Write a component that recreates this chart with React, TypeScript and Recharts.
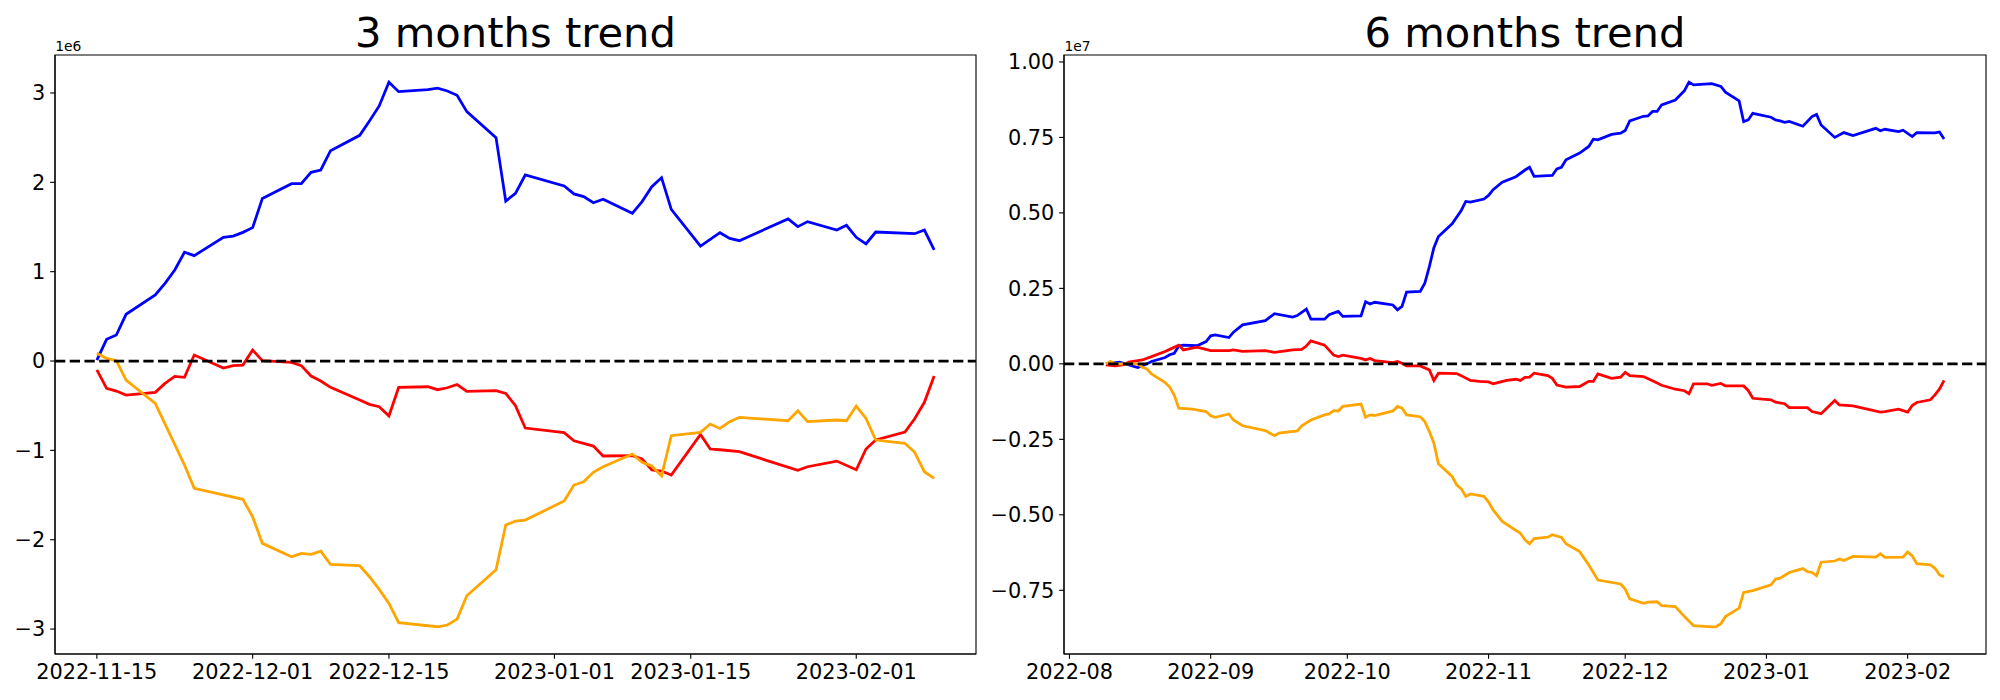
import React from 'react'
import { LineChart, Line, XAxis, YAxis, ReferenceLine, ReferenceArea } from 'recharts'

const FONT = "'DejaVu Sans', sans-serif"
const PX = 100 / 72 // matplotlib points -> px at 100 dpi

const COLORS = { blue: '#0000ff', red: '#ff0000', orange: '#ffa500' }

// ── 3 months trend (x = days since 2022-11-15, y in units of 1e6) ─────────────

const threeStart = '2022-11-15'

const threeBlueDays = [0, 1, 2, 3, 6, 7, 8, 9, 10, 13, 14, 15, 16, 17, 20, 21, 22, 23, 24, 27, 28, 29, 30, 31, 34, 35, 36, 37, 38, 41, 42, 43, 44, 48, 49, 50, 51, 52, 55, 56, 57, 58, 59, 62, 64, 65, 66, 71, 72, 73, 76, 77, 78, 79, 80, 84, 85, 86]
const threeBlueVals = [0.01, 0.243, 0.291, 0.523, 0.739, 0.87, 1.019, 1.217, 1.179, 1.385, 1.399, 1.44, 1.493, 1.82, 1.985, 1.985, 2.112, 2.138, 2.354, 2.526, 2.687, 2.855, 3.12, 3.015, 3.037, 3.053, 3.022, 2.974, 2.791, 2.5, 1.79, 1.877, 2.082, 1.959, 1.87, 1.84, 1.772, 1.81, 1.653, 1.784, 1.951, 2.052, 1.698, 1.287, 1.436, 1.373, 1.347, 1.59, 1.504, 1.56, 1.466, 1.519, 1.385, 1.31, 1.444, 1.425, 1.466, 1.243]

const threeRedDays = [0, 1, 2, 3, 6, 7, 8, 9, 10, 13, 14, 15, 16, 17, 20, 21, 22, 23, 24, 27, 28, 29, 30, 31, 34, 35, 36, 37, 38, 41, 42, 43, 44, 48, 49, 51, 52, 55, 56, 57, 58, 59, 62, 63, 64, 66, 72, 73, 76, 78, 79, 80, 83, 84, 85, 86]
const threeRedVals = [-0.1, -0.306, -0.336, -0.381, -0.351, -0.25, -0.172, -0.183, 0.067, -0.078, -0.052, -0.045, 0.123, 0.004, -0.015, -0.052, -0.168, -0.224, -0.295, -0.437, -0.485, -0.511, -0.616, -0.295, -0.288, -0.321, -0.299, -0.263, -0.34, -0.332, -0.362, -0.5, -0.75, -0.802, -0.892, -0.952, -1.063, -1.06, -1.097, -1.22, -1.231, -1.276, -0.821, -0.985, -0.993, -1.015, -1.224, -1.183, -1.12, -1.217, -0.985, -0.884, -0.795, -0.646, -0.462, -0.168]

const threeOrangeDays = [0, 1, 2, 3, 6, 9, 10, 15, 16, 17, 20, 21, 22, 23, 24, 27, 28, 29, 30, 31, 35, 36, 37, 38, 41, 42, 43, 44, 48, 49, 50, 51, 52, 55, 56, 57, 58, 59, 62, 63, 64, 65, 66, 71, 72, 73, 76, 77, 78, 79, 80, 83, 84, 85, 86]
const threeOrangeVals = [0.086, 0.03, 0.004, -0.213, -0.474, -1.164, -1.425, -1.548, -1.743, -2.041, -2.19, -2.153, -2.164, -2.127, -2.276, -2.291, -2.414, -2.556, -2.713, -2.929, -2.974, -2.955, -2.888, -2.627, -2.336, -1.836, -1.791, -1.78, -1.567, -1.388, -1.351, -1.246, -1.183, -1.041, -1.134, -1.175, -1.287, -0.836, -0.798, -0.705, -0.754, -0.679, -0.63, -0.668, -0.556, -0.679, -0.66, -0.668, -0.504, -0.642, -0.884, -0.921, -1.022, -1.239, -1.313]

const threeTickLabels = ['2022-11-15', '2022-12-01', '2022-12-15', '2023-01-01', '2023-01-15', '2023-02-01']
const threeYTicks = [-3, -2, -1, 0, 1, 2, 3]

// ── 6 months trend (x = days since 2022-08-01, y in units of 1e7) ─────────────

const sixStart = '2022-08-01'

const sixBlueDays = [8, 11, 15, 17, 18, 21, 22, 23, 24, 25, 28, 30, 31, 32, 35, 36, 38, 43, 45, 49, 50, 52, 53, 56, 57, 59, 60, 64, 65, 66, 67, 71, 72, 73, 74, 77, 78, 79, 80, 81, 84, 86, 87, 88, 91, 92, 93, 95, 98, 100, 101, 102, 106, 107, 108, 109, 112, 114, 115, 116, 119, 121, 122, 123, 126, 127, 128, 129, 130, 133, 135, 136, 137, 141, 143, 144, 147, 148, 149, 150, 154, 155, 156, 157, 158, 161, 163, 164, 165, 168, 170, 172, 177, 178, 179, 182, 183, 185, 186, 190, 191, 192]
const sixBlueVals = [0.0, 0.006, -0.012, 0.0, 0.008, 0.021, 0.03, 0.035, 0.059, 0.062, 0.06, 0.074, 0.093, 0.096, 0.087, 0.105, 0.129, 0.143, 0.166, 0.155, 0.16, 0.181, 0.148, 0.148, 0.163, 0.174, 0.157, 0.159, 0.206, 0.198, 0.204, 0.195, 0.179, 0.19, 0.238, 0.24, 0.267, 0.322, 0.385, 0.422, 0.464, 0.508, 0.538, 0.536, 0.546, 0.558, 0.577, 0.602, 0.62, 0.642, 0.651, 0.621, 0.624, 0.646, 0.651, 0.676, 0.698, 0.72, 0.744, 0.742, 0.76, 0.764, 0.773, 0.805, 0.82, 0.821, 0.836, 0.836, 0.858, 0.874, 0.905, 0.933, 0.924, 0.928, 0.919, 0.9, 0.871, 0.802, 0.808, 0.83, 0.817, 0.808, 0.805, 0.8, 0.803, 0.787, 0.819, 0.826, 0.791, 0.75, 0.766, 0.756, 0.78, 0.772, 0.777, 0.769, 0.774, 0.753, 0.766, 0.765, 0.768, 0.745]

const sixRedDays = [8, 10, 12, 13, 15, 16, 18, 21, 22, 24, 25, 28, 31, 35, 36, 38, 43, 45, 49, 51, 52, 53, 56, 58, 59, 60, 64, 65, 66, 67, 71, 72, 73, 74, 77, 79, 80, 81, 85, 86, 88, 90, 92, 93, 94, 96, 98, 99, 100, 101, 102, 105, 106, 107, 109, 112, 114, 115, 116, 119, 121, 122, 123, 126, 128, 130, 133, 135, 136, 137, 140, 141, 143, 144, 148, 149, 150, 154, 155, 157, 158, 162, 163, 165, 168, 169, 172, 178, 179, 182, 184, 185, 186, 189, 190, 191, 192]
const sixRedVals = [-0.003, -0.007, -0.003, 0.006, 0.011, 0.013, 0.024, 0.041, 0.048, 0.062, 0.046, 0.055, 0.044, 0.044, 0.046, 0.041, 0.044, 0.038, 0.046, 0.048, 0.059, 0.076, 0.062, 0.029, 0.024, 0.029, 0.018, 0.013, 0.018, 0.011, 0.004, 0.008, 0.002, -0.007, -0.007, -0.02, -0.055, -0.031, -0.032, -0.039, -0.055, -0.058, -0.06, -0.066, -0.062, -0.055, -0.051, -0.055, -0.045, -0.044, -0.031, -0.039, -0.048, -0.07, -0.077, -0.075, -0.058, -0.058, -0.033, -0.048, -0.044, -0.028, -0.039, -0.042, -0.056, -0.071, -0.084, -0.089, -0.099, -0.066, -0.066, -0.071, -0.065, -0.073, -0.073, -0.088, -0.114, -0.119, -0.127, -0.132, -0.145, -0.145, -0.158, -0.165, -0.121, -0.136, -0.139, -0.16, -0.158, -0.15, -0.16, -0.138, -0.128, -0.119, -0.103, -0.083, -0.055]

const sixOrangeDays = [8, 9, 10, 15, 16, 17, 18, 21, 22, 23, 24, 27, 30, 31, 32, 35, 36, 38, 43, 45, 46, 50, 51, 53, 56, 57, 58, 59, 60, 64, 65, 66, 67, 71, 72, 73, 74, 77, 78, 79, 80, 81, 84, 85, 86, 87, 88, 91, 92, 93, 95, 99, 100, 101, 102, 105, 106, 108, 109, 112, 114, 116, 121, 122, 123, 126, 127, 129, 130, 133, 135, 137, 141, 142, 143, 144, 147, 148, 150, 154, 155, 156, 158, 161, 162, 163, 164, 165, 168, 169, 170, 172, 177, 178, 179, 183, 184, 185, 186, 189, 190, 191, 192]
const sixOrangeVals = [0.0, 0.008, 0.0, 0.0, -0.011, -0.017, -0.033, -0.062, -0.077, -0.103, -0.147, -0.15, -0.158, -0.172, -0.177, -0.166, -0.186, -0.205, -0.221, -0.238, -0.229, -0.222, -0.205, -0.186, -0.169, -0.166, -0.155, -0.156, -0.141, -0.133, -0.177, -0.169, -0.171, -0.156, -0.141, -0.147, -0.169, -0.175, -0.191, -0.224, -0.263, -0.331, -0.373, -0.401, -0.414, -0.439, -0.431, -0.439, -0.458, -0.484, -0.522, -0.561, -0.583, -0.596, -0.579, -0.574, -0.566, -0.575, -0.596, -0.622, -0.666, -0.716, -0.729, -0.746, -0.778, -0.793, -0.789, -0.788, -0.801, -0.804, -0.837, -0.867, -0.871, -0.87, -0.861, -0.837, -0.809, -0.757, -0.751, -0.732, -0.713, -0.71, -0.691, -0.678, -0.688, -0.691, -0.702, -0.657, -0.653, -0.646, -0.651, -0.638, -0.64, -0.629, -0.641, -0.64, -0.623, -0.636, -0.662, -0.666, -0.677, -0.699, -0.705]

const sixTickLabels = ['2022-08', '2022-09', '2022-10', '2022-11', '2022-12', '2023-01', '2023-02']
const sixYTicks = [-0.75, -0.5, -0.25, 0, 0.25, 0.5, 0.75, 1.0]

// ── helpers ───────────────────────────────────────────────────────────────────

const dayOffset = (date: string, start: string) =>
  Math.round((Date.parse(date.length === 7 ? `${date}-01` : date) - Date.parse(start)) / 86400000)

const zip = (days: number[], vals: number[]) => days.map((d, i) => ({ day: d, v: vals[i] }))

const signed = (v: number, digits: number) => (v < 0 ? '\u2212' : '') + Math.abs(v).toFixed(digits)

interface Series {
  name: string
  color: string
  data: { day: number; v: number }[]
}

interface PanelProps {
  left: number
  width: number
  axisWidth: number
  rightPad: number
  series: Series[]
  xDomain: [number, number]
  yDomain: [number, number]
  tickLabels: string[]
  start: string
  yTicks: number[]
  yDigits: number
}

function TrendPanel({ left, width, axisWidth, rightPad, series, xDomain, yDomain, tickLabels, start, yTicks, yDigits }: PanelProps) {
  const xTicks = tickLabels.map((t) => dayOffset(t, start))
  const tickStyle = { fontSize: 15 * PX, fill: '#000', fontFamily: FONT }
  const spine = { stroke: '#000', strokeWidth: 0.8 * PX }
  return (
    <div style={{ position: 'absolute', left, top: 0 }}>
      <LineChart width={width} height={700} margin={{ top: 55, right: rightPad, bottom: 0, left: 0 }}>
        <XAxis
          type="number"
          dataKey="day"
          domain={xDomain}
          allowDataOverflow
          ticks={xTicks}
          tickFormatter={(v: number) => tickLabels[xTicks.indexOf(v)] ?? ''}
          height={46}
          tick={tickStyle}
          tickSize={3.5 * PX}
          tickMargin={3.5 * PX}
          tickLine={spine}
          axisLine={spine}
          interval={0}
        />
        <YAxis
          type="number"
          domain={yDomain}
          allowDataOverflow
          ticks={yTicks}
          tickFormatter={(v: number) => signed(v, yDigits)}
          width={axisWidth}
          tick={tickStyle}
          tickSize={3.5 * PX}
          tickMargin={3.5 * PX}
          tickLine={spine}
          axisLine={spine}
          interval={0}
        />
        {series.map((s) => (
          <Line
            key={s.name}
            data={s.data}
            dataKey="v"
            name={s.name}
            type="linear"
            stroke={s.color}
            strokeWidth={2 * PX}
            dot={false}
            activeDot={false}
            isAnimationActive={false}
          />
        ))}
        <ReferenceLine y={0} stroke="#000" strokeWidth={2 * PX} strokeDasharray={`${3.7 * 2 * PX} ${1.6 * 2 * PX}`} />
        <ReferenceArea
          x1={xDomain[0]}
          x2={xDomain[1]}
          y1={yDomain[0]}
          y2={yDomain[1]}
          fill="none"
          fillOpacity={0}
          stroke="#000"
          strokeWidth={0.8 * PX}
          ifOverflow="visible"
        />
      </LineChart>
    </div>
  )
}

export default function App() {
  const threeSeries: Series[] = [
    { name: 'blue', color: COLORS.blue, data: zip(threeBlueDays, threeBlueVals) },
    { name: 'red', color: COLORS.red, data: zip(threeRedDays, threeRedVals) },
    { name: 'orange', color: COLORS.orange, data: zip(threeOrangeDays, threeOrangeVals) },
  ]
  const sixSeries: Series[] = [
    { name: 'blue', color: COLORS.blue, data: zip(sixBlueDays, sixBlueVals) },
    { name: 'red', color: COLORS.red, data: zip(sixRedDays, sixRedVals) },
    { name: 'orange', color: COLORS.orange, data: zip(sixOrangeDays, sixOrangeVals) },
  ]

  return (
    <div style={{ position: 'absolute', left: 0, top: 0, width: 2000, height: 700, background: '#fff', fontFamily: FONT }}>
      <TrendPanel
        left={0}
        width={1000}
        axisWidth={55}
        rightPad={24}
        series={threeSeries}
        xDomain={[-4.3, 90.3]}
        yDomain={[-3.279, 3.425]}
        tickLabels={threeTickLabels}
        start={threeStart}
        yTicks={threeYTicks}
        yDigits={0}
      />
      <TrendPanel
        left={980}
        width={1020}
        axisWidth={84}
        rightPad={14}
        series={sixSeries}
        xDomain={[-1.2, 201.2]}
        yDomain={[-0.961, 1.023]}
        tickLabels={sixTickLabels}
        start={sixStart}
        yTicks={sixYTicks}
        yDigits={2}
      />
      <svg width={2000} height={700} style={{ position: 'absolute', left: 0, top: 0, pointerEvents: 'none' }}>
        <text x={515.5} y={47} textAnchor="middle" fontSize={30 * PX} fontFamily={FONT} fill="#000">
          3 months trend
        </text>
        <text x={55.2} y={50.5} fontSize={10 * PX} fontFamily={FONT} fill="#000">
          1e6
        </text>
        <text x={1525} y={47} textAnchor="middle" fontSize={30 * PX} fontFamily={FONT} fill="#000">
          6 months trend
        </text>
        <text x={1064.5} y={50.5} fontSize={10 * PX} fontFamily={FONT} fill="#000">
          1e7
        </text>
      </svg>
    </div>
  )
}
